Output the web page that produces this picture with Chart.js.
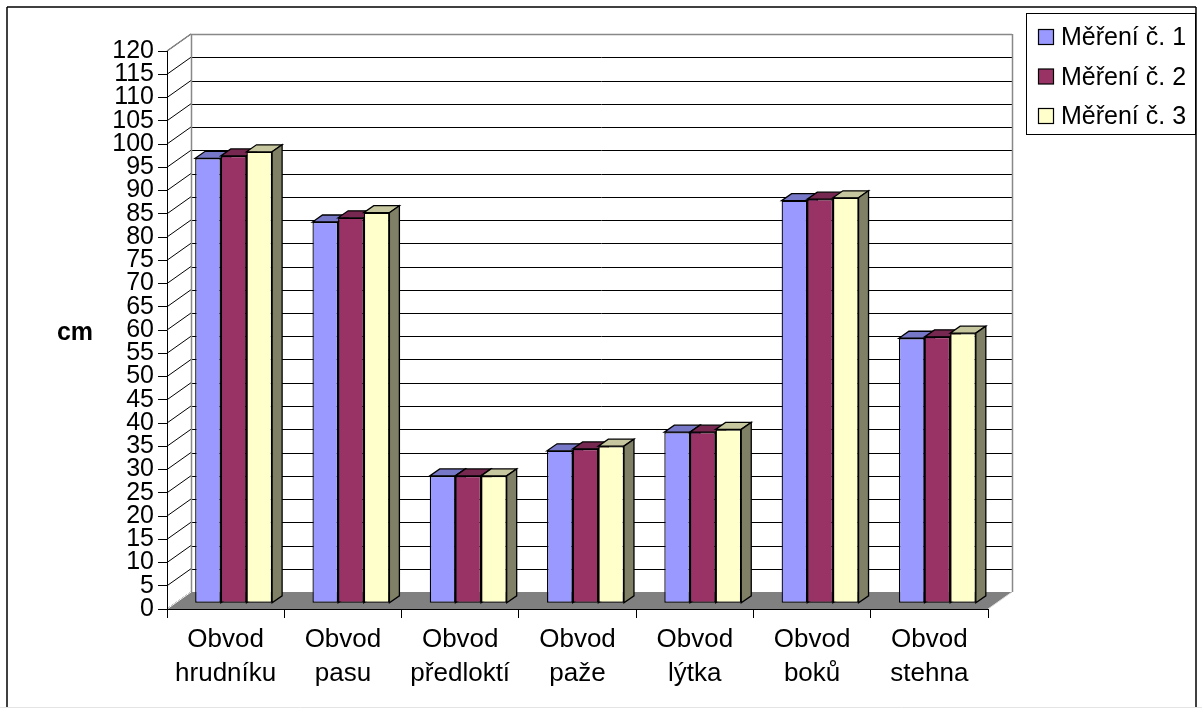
<!DOCTYPE html>
<html>
<head>
<meta charset="utf-8">
<script src="https://cdn.jsdelivr.net/npm/chart.js@4.4.1/dist/chart.umd.min.js"></script>
<style>
  html, body { margin: 0; padding: 0; background: #fff; }
  #wrap { width: 1202px; height: 709px; }
</style>
</head>
<body>
<div id="wrap"><canvas id="c" width="1202" height="709"></canvas></div>
<script>
// Body measurements (cm), three rounds
const categories = [
  ['Obvod', 'hrudníku'],
  ['Obvod', 'pasu'],
  ['Obvod', 'předloktí'],
  ['Obvod', 'paže'],
  ['Obvod', 'lýtka'],
  ['Obvod', 'boků'],
  ['Obvod', 'stehna']
];
const seriesNames = ['Měření č. 1', 'Měření č. 2', 'Měření č. 3'];
const mereni1 = [95.7, 82.0, 27.4, 32.8, 36.8, 86.6, 57.0];
const mereni2 = [96.2, 82.9, 27.4, 33.2, 36.8, 86.9, 57.3];
const mereni3 = [97.1, 84.0, 27.4, 33.8, 37.4, 87.2, 58.1];
const yTicks = [0, 5, 10, 15, 20, 25, 30, 35, 40, 45, 50, 55, 60, 65, 70, 75, 80, 85, 90, 95, 100, 105, 110, 115, 120];
const yTitle = 'cm';

const seriesColors = ['#9999FF', '#993366', '#FFFFCC'];
const FONT = '"Liberation Sans", Arial, sans-serif';

// pseudo-3D geometry
const WALL_DX = 24, WALL_DY = -17;      // depth of the walls / floor
const BAR_OX = 8, BAR_OY = -5.7;        // front plane of the columns
const BAR_DX = 10, BAR_DY = -7;         // depth of a column

function shade(hex, k) {
  const n = parseInt(hex.slice(1), 16);
  const r = Math.round(((n >> 16) & 255) * k);
  const g = Math.round(((n >> 8) & 255) * k);
  const b = Math.round((n & 255) * k);
  return `rgb(${r},${g},${b})`;
}

function poly(ctx, pts, fill, stroke, lw) {
  ctx.beginPath();
  ctx.moveTo(pts[0][0], pts[0][1]);
  for (let i = 1; i < pts.length; i++) ctx.lineTo(pts[i][0], pts[i][1]);
  ctx.closePath();
  if (fill) { ctx.fillStyle = fill; ctx.fill(); }
  if (stroke) { ctx.strokeStyle = stroke; ctx.lineWidth = lw || 1; ctx.stroke(); }
}

function line(ctx, x1, y1, x2, y2, color, lw) {
  ctx.beginPath();
  ctx.moveTo(x1, y1);
  ctx.lineTo(x2, y2);
  ctx.strokeStyle = color;
  ctx.lineWidth = lw || 1;
  ctx.stroke();
}

const scene3d = {
  id: 'scene3d',
  beforeDraw(chart) {
    const ctx = chart.ctx;
    const { left, right, top, bottom } = chart.chartArea;
    const ys = chart.scales.y;
    ctx.save();
    ctx.fillStyle = '#fff';
    ctx.fillRect(0, 0, chart.width, chart.height);

    // back wall gridlines
    yTicks.forEach(v => {
      const y = Math.round(ys.getPixelForValue(v) + WALL_DY) + 0.5;
      line(ctx, left + WALL_DX, y, right + WALL_DX, y, '#000', 1);
    });
    // side wall diagonals
    yTicks.forEach(v => {
      const y = ys.getPixelForValue(v);
      line(ctx, left, y, left + WALL_DX, y + WALL_DY, '#000', 1);
    });
    // wall edges
    const g = '#888';
    line(ctx, left + WALL_DX + 0.5, top + WALL_DY, left + WALL_DX + 0.5, bottom + WALL_DY, g, 1.5);
    line(ctx, right + WALL_DX + 0.5, top + WALL_DY, right + WALL_DX + 0.5, bottom + WALL_DY, g, 1.5);
    line(ctx, left + WALL_DX, Math.round(top + WALL_DY) + 0.5, right + WALL_DX, Math.round(top + WALL_DY) + 0.5, g, 1.5);
    line(ctx, left, top, left + WALL_DX, top + WALL_DY, g, 1.5);

    // floor
    poly(ctx, [[left, bottom], [left + WALL_DX, bottom + WALL_DY], [right + WALL_DX, bottom + WALL_DY], [right, bottom]], '#808080');
    line(ctx, left, bottom, left + WALL_DX, bottom + WALL_DY, '#fff', 1);
    line(ctx, right, bottom, right + WALL_DX, bottom + WALL_DY, '#ddd', 1);

    // axis title
    ctx.fillStyle = '#000';
    ctx.font = 'bold 25px ' + FONT;
    ctx.textAlign = 'center';
    ctx.textBaseline = 'middle';
    ctx.fillText(yTitle, 75, 333);

    // legend
    const lx = 1026.5, ly = 13.5, lw = 169, lh = 121;
    ctx.strokeStyle = '#000';
    ctx.lineWidth = 1;
    ctx.strokeRect(lx, ly, lw, lh);
    ctx.font = '25px ' + FONT;
    ctx.textAlign = 'left';
    ctx.textBaseline = 'alphabetic';
    chart.data.datasets.forEach((ds, i) => {
      const base = 45 + i * 39.5;
      ctx.fillStyle = ds.backgroundColor;
      ctx.fillRect(1038.5, base - 15.5, 15, 15);
      ctx.strokeStyle = '#000';
      ctx.lineWidth = 1.2;
      ctx.strokeRect(1038.5, base - 15.5, 15, 15);
      ctx.fillStyle = '#000';
      ctx.fillText(ds.label, 1061, base);
    });

    // outer frame
    line(ctx, 7, 7, 1196, 7, '#000', 1.5);
    line(ctx, 7, 7, 7, 708, '#000', 1.5);
    line(ctx, 1196, 7, 1196, 708, '#000', 1.5);
    line(ctx, 0, 707.5, 1202, 707.5, '#e4e4e4', 1);
    ctx.restore();
  },
  beforeDatasetsDraw(chart) {
    const ctx = chart.ctx;
    ctx.save();
    ctx.translate(BAR_OX, BAR_OY);
    const metas = chart.data.datasets.map((d, i) => chart.getDatasetMeta(i));
    for (let j = 0; j < chart.data.labels.length; j++) {
      metas.forEach((meta, i) => {
        const el = meta.data[j];
        if (!el) return;
        const p = el.getProps(['x', 'y', 'base', 'width'], true);
        const L = p.x - p.width / 2, R = p.x + p.width / 2, T = p.y, B = p.base;
        const col = chart.data.datasets[i].backgroundColor;
        poly(ctx, [[L, T], [R, T], [R + BAR_DX, T + BAR_DY], [L + BAR_DX, T + BAR_DY]], shade(col, 0.78), '#000', 1.3);
        poly(ctx, [[R, T], [R + BAR_DX, T + BAR_DY], [R + BAR_DX, B + BAR_DY], [R, B]], shade(col, 0.5), '#000', 1.3);
      });
    }
    // front faces are drawn by the bar controller in this shifted plane
  },
  afterDatasetsDraw(chart) {
    chart.ctx.restore();
  }
};

new Chart(document.getElementById('c'), {
  type: 'bar',
  data: {
    labels: categories,
    datasets: [
      { label: seriesNames[0], data: mereni1, backgroundColor: seriesColors[0] },
      { label: seriesNames[1], data: mereni2, backgroundColor: seriesColors[1] },
      { label: seriesNames[2], data: mereni3, backgroundColor: seriesColors[2] }
    ]
  },
  options: {
    responsive: false,
    devicePixelRatio: 1,
    animation: false,
    layout: { padding: { left: 0, top: 51, right: 214, bottom: 0 } },
    datasets: {
      bar: {
        categoryPercentage: 0.656,
        barPercentage: 1,
        borderColor: '#000',
        borderWidth: 1.3,
        borderSkipped: false
      }
    },
    plugins: { legend: { display: false }, tooltip: { enabled: false } },
    scales: {
      x: {
        type: 'category',
        offset: true,
        grid: { offset: true, drawOnChartArea: false, drawTicks: true, tickLength: 9, color: '#000', lineWidth: 1 },
        border: { display: true, color: '#000', width: 1 },
        ticks: { color: '#000', font: { family: FONT, size: 26, lineHeight: 1.3 }, padding: 5, maxRotation: 0, autoSkip: false },
        afterFit(scale) { scale.height = 100; }
      },
      y: {
        min: 0,
        max: 120,
        afterBuildTicks(scale) { scale.ticks = yTicks.map(v => ({ value: v })); },
        grid: { drawOnChartArea: false, drawTicks: true, tickLength: 9, color: '#000', lineWidth: 1 },
        border: { display: true, color: '#000', width: 1 },
        ticks: { color: '#000', font: { family: FONT, size: 25 }, padding: 4, autoSkip: false },
        afterFit(scale) { scale.width = 167; }
      }
    }
  },
  plugins: [scene3d]
});
</script>
</body>
</html>
